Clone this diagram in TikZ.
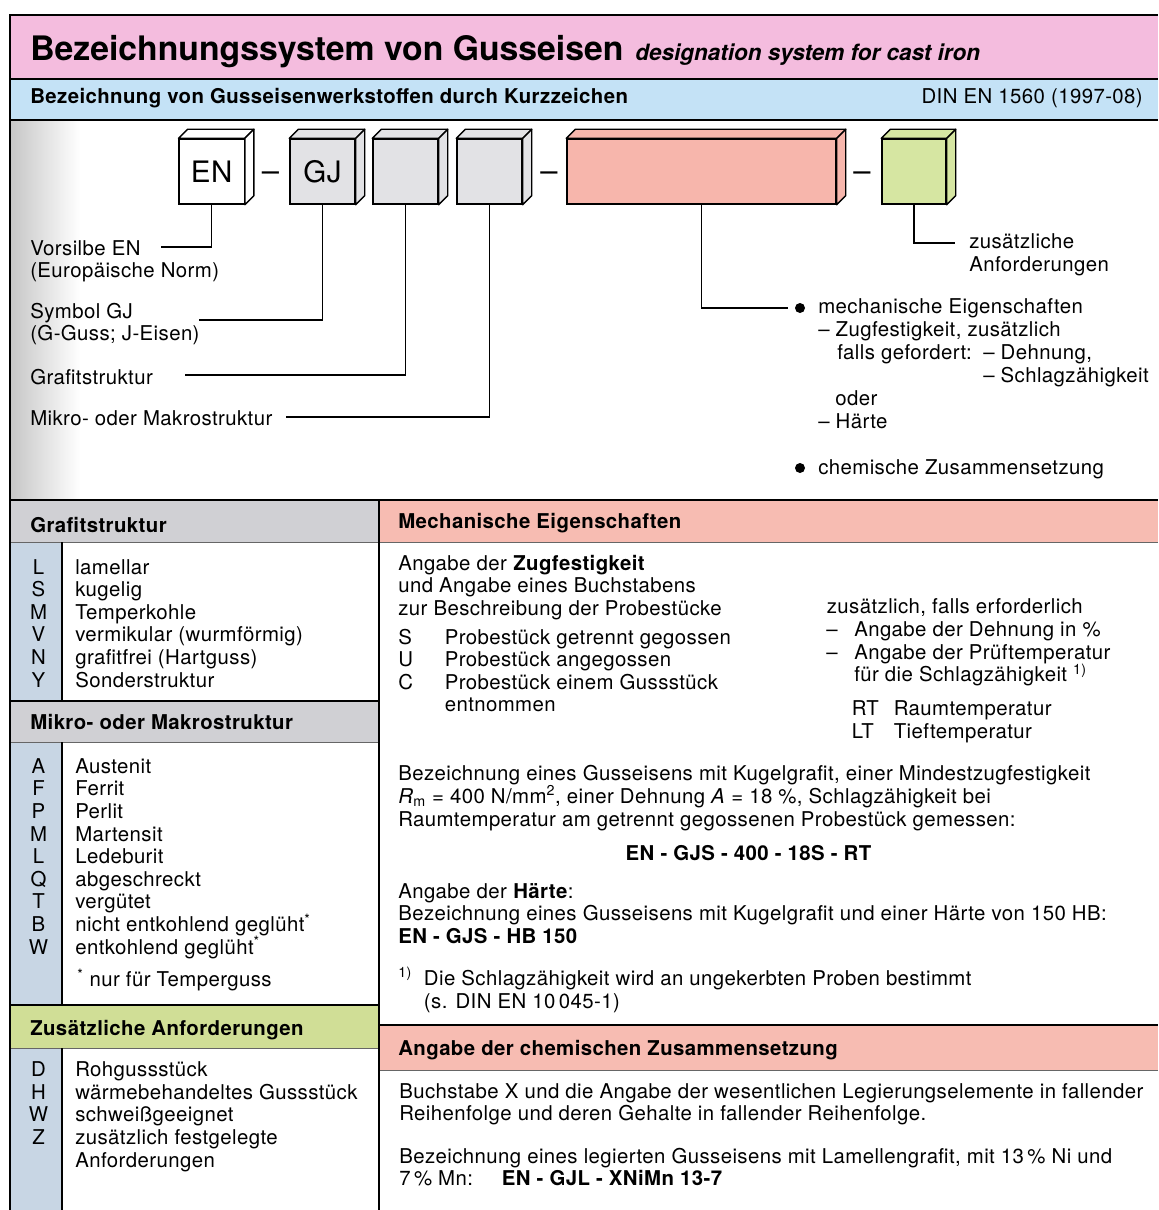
\documentclass[tikz,border=0pt]{standalone}
\usepackage{fontspec}
\setmainfont{TeX Gyre Heros}[LetterSpace=2]
\newfontfamily\titlefont{TeX Gyre Heros}
\usetikzlibrary{positioning}
\definecolor{titlepink}{RGB}{244,188,222}
\definecolor{normblue}{RGB}{196,226,246}
\definecolor{cubegray}{RGB}{226,226,229}
\definecolor{mechpink}{RGB}{247,182,172}
\definecolor{addgreen}{RGB}{214,230,162}
\definecolor{headgray}{RGB}{208,208,212}
\definecolor{headpink}{RGB}{247,188,178}
\definecolor{headgreen}{RGB}{208,222,150}
\definecolor{keyblue}{RGB}{200,214,228}
\newcommand\bodysize{\fontsize{14.5}{17}\selectfont}

\begin{document}
\begin{tikzpicture}[
    x=0.025cm, y=-0.025cm,
    txt/.style={anchor=base west, inner sep=0pt, font=\bodysize},
    keyletter/.style={anchor=base, inner sep=0pt, font=\bodysize},
    head/.style={txt, font=\bodysize\bfseries},
    cube/.style={draw, line width=1pt, minimum width=1.625cm, minimum height=1.625cm, inner sep=0pt, font=\fontsize{21}{24}\selectfont},
    face/.style={draw, line width=1pt, line join=round},
    hyph/.style={anchor=base, inner sep=0pt, font=\fontsize{22}{24}\selectfont},
    lead/.style={line width=0.9pt},
    dot/.style={circle, fill, inner sep=0pt, minimum size=0.25cm},
    heavy/.style={line width=2pt},
    frameline/.style={line width=1.4pt},
    sepline/.style={line width=0.6pt, black!60}
]
    \useasboundingbox (0,0) rectangle (1158,1210);
    \fill[white] (0,0) rectangle (1158,1210);

    % Bands and frames
    \fill[titlepink] (10,15) rectangle (1158,79);
    \fill[normblue] (10,79) rectangle (1158,120);
    \shade[left color=black!22, right color=white] (11,120) rectangle (80,500);
    \fill[headgray] (11,500) rectangle (379,542);
    \fill[headgray] (11,701) rectangle (379,742);
    \fill[headgreen] (11,1005) rectangle (379,1048);
    \fill[headpink] (379,500) rectangle (1158,542);
    \fill[headpink] (379,1025) rectangle (1158,1070);
    \fill[keyblue] (11,542) rectangle (62,701);
    \fill[keyblue] (11,742) rectangle (62,1005);
    \fill[keyblue] (11,1048) rectangle (62,1210);

    \draw[sepline] (11,542) -- (1158,542);
    \draw[sepline] (11,742) -- (379,742);
    \draw[sepline] (11,1048) -- (379,1048);
    \draw[sepline] (379,1070) -- (1158,1070);
    \draw[frameline] (11,701) -- (379,701);
    \draw[frameline] (11,1005) -- (379,1005);
    \draw[frameline] (379,1025) -- (1158,1025);
    \draw[frameline] (62,542) -- (62,701);
    \draw[frameline] (62,742) -- (62,1005);
    \draw[frameline] (62,1048) -- (62,1210);
    \draw[frameline] (379,500) -- (379,1210);
    \draw[frameline] (10,120) -- (1158,120);
    \draw[heavy] (10,15) -- (1158,15);
    \draw[heavy] (10,79) -- (1158,79);
    \draw[heavy] (10,500) -- (1158,500);
    \draw[heavy] (10,14) -- (10,1210);

    % Title
    \node[txt, font=\titlefont\fontsize{24}{28}\selectfont\bfseries] (title) at (30,60) {Bezeichnungssystem von Gusseisen};
    \node[txt, font=\titlefont\fontsize{16}{19}\selectfont\bfseries\itshape, right=8pt of title.base east, anchor=base west] (subtitle) {designation system for cast iron};
    \node[head] (subhead) at (30,103) {Bezeichnung von Gusseisenwerkstoffen durch Kurzzeichen};
    \node[txt, anchor=base east] (din) at (1143,103) {DIN EN 1560 (1997-08)};

    % Designation blocks
    \node[cube, fill=white] (en) at (211.7,171.5) {EN};
    \node[cube, fill=cubegray] (gj) at (322.5,171.5) {GJ};
    \node[cube, fill=cubegray] (graf) at (405.5,171.5) {};
    \node[cube, fill=cubegray] (micro) at (489.5,171.5) {};
    \node[cube, fill=mechpink, minimum width=6.725cm] (mech) at (701.5,171.5) {};
    \node[cube, fill=addgreen, minimum width=1.6cm] (extra) at (914,171.5) {};
    \foreach \n/\c in {en/white, gj/cubegray, graf/cubegray, micro/cubegray, mech/mechpink, extra/addgreen} {
        \filldraw[face, fill=\c] (\n.north west) -- ++(9,-9) -- ([shift={(9,-9)}]\n.north east) -- (\n.north east) -- cycle;
        \filldraw[face, fill=\c] (\n.north east) -- ([shift={(9,-9)}]\n.north east) -- ([shift={(9,-9)}]\n.south east) -- (\n.south east) -- cycle;
    }
    \node[hyph] (h1) at (270.5,181) {–};
    \node[hyph] (h2) at (549,181) {–};
    \node[hyph] (h3) at (862,181) {–};

    % Explanations of the blocks
    \node[txt] (vors) at (30,255) {Vorsilbe EN};
    \node[txt] at (30,277) {(Europäische Norm)};
    \node[txt] (sym) at (30,318) {Symbol GJ};
    \node[txt] at (30,340) {(G-Guss; J-Eisen)};
    \node[txt] (graftxt) at (30,384) {Grafitstruktur};
    \node[txt] (microtxt) at (30,425) {Mikro- oder Makrostruktur};
    \node[txt] (extratxt) at (969,248) {zusätzliche};
    \node[txt] at (969,271) {Anforderungen};
    \node[dot] (b1) at (800,308) {};
    \node[txt] at (818,313) {mechanische Eigenschaften};
    \node[txt] at (818,336) {– Zugfestigkeit, zusätzlich};
    \node[txt] at (837,359) {falls gefordert:};
    \node[txt] at (983,359) {– Dehnung,};
    \node[txt] at (983,382) {– Schlagzähigkeit};
    \node[txt] at (835,405) {oder};
    \node[txt] at (818,428) {– Härte};
    \node[dot] (b2) at (800,468) {};
    \node[txt] at (818,474) {chemische Zusammensetzung};

    \coordinate (vorsEnd) at (161,247);
    \coordinate (symEnd) at (199,320);
    \coordinate (grafEnd) at (185,375);
    \coordinate (microEnd) at (286,417);
    \coordinate (mechEnd) at (788,308);
    \coordinate (extraEnd) at (955,243);
    \draw[lead] (en.south) |- (vorsEnd);
    \draw[lead] (gj.south) |- (symEnd);
    \draw[lead] (graf.south) |- (grafEnd);
    \draw[lead] (micro.south) |- (microEnd);
    \draw[lead] (mech.south) |- (mechEnd);
    \draw[lead] (extra.south) |- (extraEnd);

    % Left tables
    \node[head] at (30,532) {Grafitstruktur};
    \foreach \k/\t [count=\i from 0] in {L/lamellar, S/kugelig, M/Temperkohle, V/vermikular (wurmförmig), N/grafitfrei (Hartguss), Y/Sonderstruktur} {
        \node[keyletter] at (38.5,574+22.6*\i) {\k};
        \node[txt] at (75,574+22.6*\i) {\t};
    }
    \node[head] at (30,729.3) {Mikro- oder Makrostruktur};
    \foreach \k/\t [count=\i from 0] in {A/Austenit, F/Ferrit, P/Perlit, M/Martensit, L/Ledeburit, Q/abgeschreckt, T/vergütet, B/nicht entkohlend geglüht\textsuperscript{*}, W/entkohlend geglüht\textsuperscript{*}} {
        \node[keyletter] at (38.5,773.3+22.6*\i) {\k};
        \node[txt] at (75,773.3+22.6*\i) {\t};
    }
    \node[txt] at (77,986.7) {\textsuperscript{*} nur für Temperguss};
    \node[head] at (30,1035) {Zusätzliche Anforderungen};
    \foreach \k/\t [count=\i from 0] in {D/Rohgussstück, H/wärmebehandeltes Gussstück, W/schweißgeeignet, Z/zusätzlich festgelegte} {
        \node[keyletter] at (38.5,1076.7+22.6*\i) {\k};
        \node[txt] at (75,1076.7+22.6*\i) {\t};
    }
    \node[txt] at (75,1167.1) {Anforderungen};

    % Mechanical properties
    \node[head] at (398,528) {Mechanische Eigenschaften};
    \node[txt] at (398,570) {Angabe der \textbf{Zugfestigkeit}};
    \node[txt] at (398,592.6) {und Angabe eines Buchstabens};
    \node[txt] at (398,615.2) {zur Beschreibung der Probestücke};
    \foreach \k/\t [count=\i from 0] in {S/Probestück getrennt gegossen, U/Probestück angegossen, C/Probestück einem Gussstück} {
        \node[txt] at (398,644+22.6*\i) {\k};
        \node[txt] at (444.5,644+22.6*\i) {\t};
    }
    \node[txt] at (444.5,711.8) {entnommen};
    \node[txt] at (826.6,613.3) {zusätzlich, falls erforderlich};
    \node[txt] at (826,636.7) {–};
    \node[txt] at (854,636.7) {Angabe der Dehnung in \%};
    \node[txt] at (826,659.3) {–};
    \node[txt] at (854,659.3) {Angabe der Prüftemperatur};
    \node[txt] at (854,681.9) {für die Schlagzähigkeit \textsuperscript{1)}};
    \node[txt] at (851.5,715) {RT};
    \node[txt] at (893.6,715) {Raumtemperatur};
    \node[txt] at (851.5,738) {LT};
    \node[txt] at (893.6,738) {Tieftemperatur};

    \node[txt] at (398,780) {Bezeichnung eines Gusseisens mit Kugelgrafit, einer Mindestzugfestigkeit};
    \node[txt] at (398,803) {\textit{R}\textsubscript{m} = 400 N/mm\textsuperscript{2}, einer Dehnung \textit{A} = 18 \%, Schlagzähigkeit bei};
    \node[txt] at (398,826) {Raumtemperatur am getrennt gegossenen Probestück gemessen:};
    \node[txt, anchor=base, font=\bodysize\bfseries] at (748.5,860) {EN - GJS - 400 - 18S - RT};
    \node[txt] at (398,898) {Angabe der \textbf{Härte}:};
    \node[txt] at (398,920.5) {Bezeichnung eines Gusseisens mit Kugelgrafit und einer Härte von 150 HB:};
    \node[head] at (398,943) {EN - GJS - HB 150};
    \node[txt] at (398,985) {\textsuperscript{1)}};
    \node[txt] at (423.7,985) {Die Schlagzähigkeit wird an ungekerbten Proben bestimmt};
    \node[txt] at (423.7,1008) {(s. DIN EN 10\,045-1)};

    % Chemical composition
    \node[head] at (398,1055.7) {Angabe der chemischen Zusammensetzung};
    \node[txt] at (399,1098) {Buchstabe X und die Angabe der wesentlichen Legierungselemente in fallender};
    \node[txt] at (399,1120.5) {Reihenfolge und deren Gehalte in fallender Reihenfolge.};
    \node[txt] at (399,1163) {Bezeichnung eines legierten Gusseisens mit Lamellengrafit, mit 13\,\% Ni und};
    \node[txt] at (399,1185.5) {7\,\% Mn:};
    \node[head] at (501.6,1185.5) {EN - GJL - XNiMn 13-7};
\end{tikzpicture}
\end{document}
